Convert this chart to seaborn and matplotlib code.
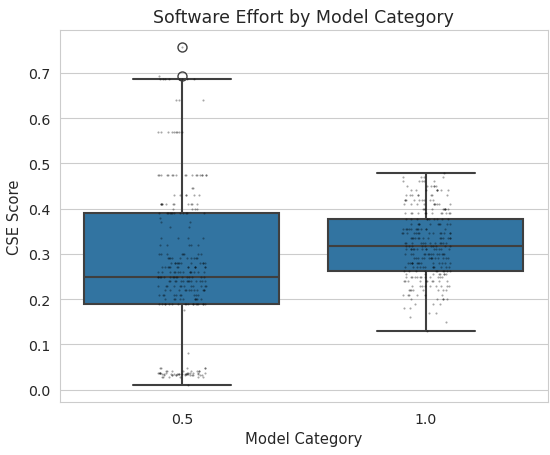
import numpy as np
import pandas as pd
import matplotlib
matplotlib.use("Agg")
import matplotlib.pyplot as plt
import seaborn as sns

# Valores de CSE e quantas vezes cada um aparece
cse_05 = [0.010, 0.028, 0.032, 0.035, 0.038, 0.042, 0.048, 0.080, 0.175,
          0.190, 0.200, 0.210, 0.220, 0.230, 0.240, 0.250, 0.260, 0.270,
          0.280, 0.290, 0.300, 0.320, 0.335, 0.360, 0.370, 0.380, 0.390,
          0.400, 0.410, 0.430, 0.445, 0.475, 0.570, 0.640, 0.686, 0.692, 0.757]
n_05 = [1, 6, 11, 15, 12, 8, 5, 1, 1,
        18, 10, 10, 12, 12, 14, 16, 14, 14,
        12, 10, 8, 5, 4, 2, 2, 1, 12,
        4, 12, 6, 2, 18, 9, 3, 8, 1, 1]

cse_10 = [0.129, 0.150, 0.160, 0.170, 0.180, 0.190, 0.200, 0.210, 0.220,
          0.230, 0.240, 0.250, 0.255, 0.262, 0.270, 0.280, 0.290, 0.300,
          0.310, 0.318, 0.325, 0.335, 0.345, 0.355, 0.365, 0.378, 0.390,
          0.400, 0.410, 0.420, 0.430, 0.440, 0.450, 0.460, 0.470, 0.478]
n_10 = [1, 1, 1, 2, 2, 3, 5, 6, 8,
        9, 10, 12, 8, 10, 12, 14, 14, 14,
        14, 10, 12, 14, 14, 12, 10, 10, 12,
        10, 10, 9, 8, 8, 6, 5, 4, 1]

categorias = [0.5, 1.0]

df = pd.DataFrame({
    "Model Category": np.concatenate([np.repeat(categorias[0], sum(n_05)),
                                      np.repeat(categorias[1], sum(n_10))]),
    "CSE Score": np.concatenate([np.repeat(cse_05, n_05),
                                 np.repeat(cse_10, n_10)]),
})

# Configuração estética
sns.set_style("whitegrid")

fig, ax = plt.subplots(figsize=(5.5, 4.56), dpi=100)
fig.subplots_adjust(left=0.109, right=0.996, top=0.932, bottom=0.116)

sns.boxplot(data=df, x="Model Category", y="CSE Score", ax=ax,
            color="#1f77b4", linewidth=1.5, fliersize=6.5)
sns.stripplot(data=df, x="Model Category", y="CSE Score", ax=ax,
              color="black", size=1.5, alpha=0.35)

ax.set_title("Software Effort by Model Category", fontsize=12.5)
ax.set_xlabel("Model Category", fontsize=10.6)
ax.set_ylabel("CSE Score", fontsize=10.6)
ax.tick_params(labelsize=10.2)

plt.savefig("out.png", dpi=100)
